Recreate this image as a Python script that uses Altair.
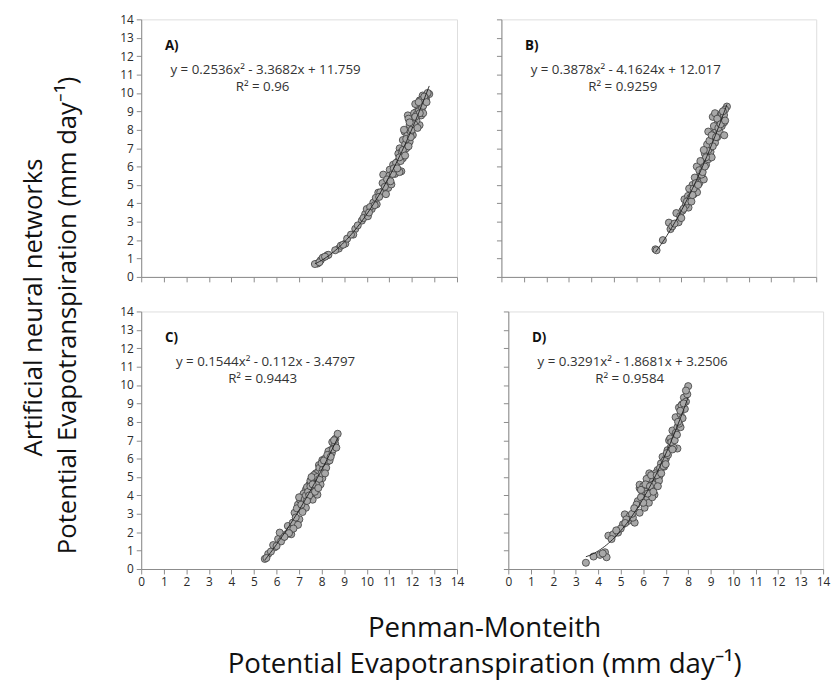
import altair as alt
import pandas as pd

FONT = "Open Sans"

# ---------------- data ----------------
panel_labels = ["A)", "B)", "C)", "D)"]
equations = [
    "y = 0.2536x² - 3.3682x + 11.759",
    "y = 0.3878x² - 4.1624x + 12.017",
    "y = 0.1544x² - 0.112x - 3.4797",
    "y = 0.3291x² - 1.8681x + 3.2506",
]
r_squared = ["R² = 0.96", "R² = 0.9259", "R² = 0.9443", "R² = 0.9584"]
tick_values = list(range(0, 15))

points_a = [
    (7.82, 0.73), (7.96, 0.91), (8.25, 1.18), (8.76, 1.54), (9.05, 1.81), (9.13, 2.08),
    (9.49, 2.61), (9.78, 3.06), (9.93, 3.42), (10.0, 3.69), (10.22, 3.69), (10.44, 3.95),
    (10.29, 4.04), (10.51, 4.58), (10.73, 4.67), (10.95, 4.84), (11.09, 5.03), (10.73, 5.56),
    (11.02, 5.83), (11.17, 6.10), (11.53, 5.74), (11.38, 6.28), (11.6, 6.45), (11.46, 6.99),
    (11.75, 6.99), (11.6, 7.44), (11.9, 7.35), (11.68, 7.89), (12.04, 7.71), (11.9, 8.25),
    (11.82, 8.78), (12.12, 8.60), (12.34, 8.25), (12.19, 8.96), (12.41, 8.78), (12.26, 9.32),
    (12.55, 9.50), (12.48, 9.86), (12.77, 9.94), (12.62, 9.67), (12.41, 9.14),
    (7.70, 0.70), (7.90, 0.80), (8.05, 1.05), (8.30, 1.20), (8.85, 1.70), (8.95, 1.75),
    (9.40, 2.30), (9.85, 3.20), (10.05, 3.30), (10.15, 3.80), (10.40, 4.30), (10.60, 4.60),
    (10.85, 4.50), (10.70, 5.10), (11.00, 5.50), (11.25, 5.60), (11.30, 6.20), (11.45, 5.70),
    (11.40, 6.70), (11.55, 6.80), (11.70, 7.20), (11.80, 7.70), (11.65, 8.00), (11.95, 7.90),
    (12.00, 8.40), (12.10, 8.90), (12.20, 8.50), (12.30, 9.00), (12.45, 9.20), (12.50, 8.90),
    (12.60, 9.80), (12.70, 10.00), (12.35, 9.60), (12.15, 9.40), (11.85, 8.60), (12.05, 8.10),
    (10.10, 3.50), (10.35, 3.90), (10.55, 4.35), (10.80, 4.90), (10.90, 5.30), (11.05, 5.20),
    (11.15, 5.60), (11.20, 5.90), (11.35, 5.90), (11.50, 6.30), (11.45, 6.50), (11.60, 6.90),
    (11.70, 6.60), (11.75, 7.50), (11.85, 7.10), (11.95, 7.60), (12.00, 8.00), (12.10, 8.30),
    (12.20, 8.80), (12.25, 8.10), (12.35, 8.90), (12.40, 9.60), (12.50, 9.30), (12.55, 9.80),
    (12.65, 9.50), (12.30, 9.50), (12.15, 8.70), (11.90, 8.40), (9.60, 2.80), (9.30, 2.30),
    (8.60, 1.45), (8.15, 1.10),
]

points_b = [
    (6.85, 1.50), (6.90, 1.45), (7.18, 2.00), (7.45, 2.95), (7.52, 2.60), (7.60, 2.75),
    (7.88, 2.97), (7.78, 3.47), (7.95, 3.30), (8.05, 3.60), (8.14, 4.22), (8.32, 3.77),
    (8.20, 3.90), (8.10, 3.70), (8.30, 4.40), (8.40, 4.30), (8.45, 4.70), (8.55, 4.50),
    (8.60, 4.90), (8.70, 4.60), (8.50, 5.00), (8.35, 4.80), (8.70, 5.30), (8.80, 5.10),
    (8.85, 5.60), (8.90, 5.50), (8.60, 5.40), (8.95, 5.90), (9.00, 5.30), (8.69, 6.00),
    (8.90, 5.56), (9.00, 6.30), (9.10, 6.10), (9.15, 6.60), (9.20, 6.40), (9.30, 6.80),
    (9.05, 6.70), (9.25, 7.00), (9.35, 6.50), (9.30, 7.20), (9.40, 7.50), (9.50, 7.30),
    (9.20, 7.90), (9.45, 7.80), (9.60, 7.60), (9.55, 8.00), (9.70, 7.90), (9.91, 7.70),
    (9.40, 8.70), (9.60, 8.30), (9.70, 8.50), (9.85, 8.60), (9.80, 8.20), (9.50, 8.90),
    (9.75, 8.80), (9.90, 8.40), (10.03, 9.26), (9.95, 9.10),
    (8.25, 4.10), (8.45, 4.10), (8.55, 4.80), (8.65, 5.10), (8.75, 5.00), (8.80, 5.80),
    (8.95, 5.70), (9.05, 6.00), (9.10, 6.50), (9.20, 6.90), (9.15, 7.20), (9.25, 7.40),
    (9.35, 7.70), (9.40, 7.10), (9.45, 8.20), (9.55, 7.60), (9.60, 8.60), (9.65, 8.10),
    (9.75, 8.30), (9.80, 8.90), (9.90, 8.80), (9.95, 8.50), (9.85, 9.00), (8.50, 4.45),
    (8.00, 3.20), (7.70, 2.90), (8.85, 6.30), (9.00, 6.90),
]

points_c = [
    (5.48, 0.55), (5.63, 0.82), (5.92, 1.18), (6.07, 1.63), (6.29, 1.72), (6.14, 1.98),
    (6.43, 1.89), (6.65, 1.89), (6.50, 2.34), (6.72, 2.52), (7.01, 2.70), (6.80, 3.06),
    (7.09, 3.24), (6.95, 3.50), (7.23, 3.59), (7.16, 3.95), (7.38, 3.86), (7.30, 4.31),
    (7.52, 4.13), (7.60, 3.77), (7.45, 4.58), (7.67, 4.49), (7.60, 4.94), (7.81, 4.76),
    (7.74, 5.20), (7.96, 5.30), (7.88, 5.65), (8.10, 5.56), (8.03, 5.92), (8.25, 5.83),
    (8.32, 6.19), (8.40, 6.46), (8.54, 6.64), (8.47, 6.90), (8.61, 7.08), (8.71, 7.35),
    (7.81, 4.04), (8.03, 4.94), (7.30, 3.33),
    (5.55, 0.60), (5.75, 0.95), (5.85, 1.30), (6.20, 1.50), (6.60, 2.10), (6.85, 2.80),
    (6.90, 3.30), (7.05, 3.75), (7.20, 4.10), (7.35, 4.45), (7.50, 4.80), (7.55, 4.30),
    (7.70, 4.20), (7.70, 5.00), (7.85, 5.30), (7.95, 4.60), (7.90, 5.50), (8.05, 5.40),
    (8.15, 6.00), (8.20, 5.50), (8.30, 6.40), (8.45, 6.30), (8.60, 6.80), (8.35, 5.90),
    (7.75, 4.60), (7.40, 3.90), (7.15, 3.10), (6.95, 2.40), (7.00, 3.90), (8.00, 5.75),
    (7.10, 3.50), (7.25, 3.80), (7.30, 4.00), (7.40, 4.20), (7.45, 4.00), (7.50, 4.50),
    (7.60, 4.60), (7.65, 5.10), (7.80, 5.00), (7.85, 4.40), (7.90, 4.90), (8.00, 5.20),
    (8.10, 5.90), (8.15, 5.20), (8.25, 6.20), (8.40, 6.10), (8.50, 6.50), (8.55, 7.00),
    (8.65, 6.60), (7.55, 5.00), (7.35, 3.70), (6.75, 2.20), (6.55, 1.95), (6.35, 1.75),
    (6.00, 1.25),
]

points_d = [
    (3.45, 0.34), (3.79, 0.68), (4.08, 0.77), (4.30, 0.91), (4.37, 0.64), (4.45, 1.81),
    (4.67, 1.89), (4.59, 1.63), (4.88, 1.98), (5.10, 2.43), (5.18, 2.97), (5.40, 2.88),
    (5.32, 2.61), (5.62, 2.52), (5.54, 2.79), (5.76, 3.69), (5.84, 4.40), (5.98, 4.13),
    (6.06, 3.33), (6.13, 3.77), (6.20, 4.67), (6.35, 4.40), (6.42, 5.03), (6.27, 5.20),
    (6.57, 4.67), (6.64, 5.38), (6.79, 5.74), (6.86, 6.10), (7.01, 6.01), (7.08, 6.46),
    (7.23, 6.64), (7.15, 6.99), (7.37, 7.17), (7.30, 7.53), (7.52, 7.71), (7.44, 8.25),
    (7.66, 8.42), (7.59, 8.78), (7.74, 8.96), (7.81, 9.32), (7.96, 9.50), (8.00, 9.94),
    (5.84, 3.06), (6.50, 4.04), (6.71, 5.03), (6.93, 5.56), (7.52, 6.55), (7.66, 7.71),
    (5.84, 4.58),
    (4.20, 0.85), (5.00, 2.20), (5.25, 2.70), (5.70, 3.50), (5.90, 3.90), (6.00, 4.50),
    (6.10, 4.20), (6.25, 3.60), (6.30, 4.90), (6.45, 4.60), (6.55, 5.20), (6.70, 4.80),
    (6.75, 5.50), (6.95, 5.90), (7.10, 6.20), (7.20, 7.10), (7.35, 6.60), (7.45, 7.40),
    (7.60, 7.90), (7.70, 8.90), (7.75, 8.20), (7.90, 9.10), (7.85, 8.70), (6.40, 3.90),
    (6.15, 4.90),
    (5.50, 3.00), (5.90, 4.30), (6.00, 3.60), (6.10, 4.60), (6.20, 4.10), (6.30, 4.50),
    (6.35, 5.10), (6.45, 4.20), (6.60, 5.10), (6.65, 4.50), (6.80, 5.20), (6.90, 5.60),
    (7.00, 5.70), (7.05, 6.30), (7.25, 6.90), (7.30, 6.50), (7.40, 7.00), (7.50, 7.30),
    (7.55, 8.00), (7.65, 8.60), (7.80, 9.00), (7.90, 9.70), (4.80, 2.10), (5.20, 2.50),
    (5.60, 3.30),
]

y_title_lines = ["Artificial neural networks", "Potential Evapotranspiration (mm day⁻¹)"]
x_title_lines = ["Penman-Monteith", "Potential Evapotranspiration (mm day⁻¹)"]

# ---------------- styling ----------------
FRAME = "#8a8a8a"
PH = 261
Y_TITLE_SIZE = 26
X_TITLE_SIZE = 28


def make_axis(show_labels):
    return alt.Axis(
        values=tick_values, labels=show_labels, title=None, grid=False,
        tickSize=5, tickColor=FRAME, domainColor=FRAME, tickWidth=1, domainWidth=1,
        labelFont=FONT, labelFontSize=12, labelColor="#2a2a2a", labelPadding=3,
        labelFlush=False, labelOverlap=False,
    )


def panel(pts, i, show_x, show_y, width):
    df = pd.DataFrame(pts, columns=["x", "y"])
    sx = alt.Scale(domain=[0, 14], nice=False, zero=False)
    sy = alt.Scale(domain=[0, 14], nice=False, zero=False)
    ax_x = make_axis(show_x)
    ax_y = make_axis(show_y)
    base = alt.Chart(df)
    dots = base.mark_circle(
        size=52, color="#a8a8a8", opacity=1, stroke="#3c3c3c", strokeWidth=0.8
    ).encode(
        x=alt.X("x:Q", scale=sx, axis=ax_x),
        y=alt.Y("y:Q", scale=sy, axis=ax_y),
    )
    fit = base.transform_regression("x", "y", method="poly", order=2).mark_line(
        color="#1e1e1e", strokeWidth=0.9
    ).encode(
        x=alt.X("x:Q", scale=sx, axis=ax_x),
        y=alt.Y("y:Q", scale=sy, axis=ax_y),
    )
    lab = alt.Chart(pd.DataFrame({"t": [panel_labels[i]]})).mark_text(
        align="left", baseline="middle", font=FONT, fontSize=13.5, fontWeight="bold", color="#111"
    ).encode(text="t:N", x=alt.value(24), y=alt.value(27))
    eq = alt.Chart(pd.DataFrame({"t": [equations[i]]})).mark_text(
        align="center", baseline="middle", font=FONT, fontSize=13.5, color="#333"
    ).encode(text="t:N", x=alt.value(126), y=alt.value(51))
    r2 = alt.Chart(pd.DataFrame({"t": [r_squared[i]]})).mark_text(
        align="center", baseline="middle", font=FONT, fontSize=13.5, color="#333"
    ).encode(text="t:N", x=alt.value(123), y=alt.value(69))
    return alt.layer(dots, fit, lab, eq, r2).properties(width=width, height=PH)


pa = panel(points_a, 0, False, True, 320)
pb = panel(points_b, 1, False, False, 319)
pc = panel(points_c, 2, True, True, 320)
pd_ = panel(points_d, 3, True, False, 319)

grid = alt.vconcat(
    alt.hconcat(pa, pb, spacing=38),
    alt.hconcat(pc, pd_, spacing=38),
    spacing=21,
)

NOFRAME = alt.ViewConfig(stroke="transparent")

ytitle = alt.layer(
    alt.Chart(pd.DataFrame({"t": [y_title_lines[0]]})).mark_text(
        angle=270, align="center", baseline="middle", font=FONT, fontSize=Y_TITLE_SIZE, color="#111"
    ).encode(text="t:N", x=alt.value(25), y=alt.value(292)),
    alt.Chart(pd.DataFrame({"t": [y_title_lines[1]]})).mark_text(
        angle=270, align="center", baseline="middle", font=FONT, fontSize=Y_TITLE_SIZE, color="#111"
    ).encode(text="t:N", x=alt.value(60), y=alt.value(300)),
).properties(width=94, height=560, view=NOFRAME)

xtitle = alt.layer(
    alt.Chart(pd.DataFrame({"t": [x_title_lines[0]]})).mark_text(
        align="center", baseline="middle", font=FONT, fontSize=X_TITLE_SIZE, color="#111"
    ).encode(text="t:N", x=alt.value(482), y=alt.value(32)),
    alt.Chart(pd.DataFrame({"t": [x_title_lines[1]]})).mark_text(
        align="center", baseline="middle", font=FONT, fontSize=X_TITLE_SIZE, color="#111"
    ).encode(text="t:N", x=alt.value(482), y=alt.value(68)),
).properties(width=800, height=60, view=NOFRAME)

chart = alt.vconcat(
    alt.hconcat(ytitle, grid, spacing=16),
    xtitle,
    spacing=8,
).properties(
    padding={"left": 0, "top": 0, "right": 0, "bottom": 0}
).configure_view(
    stroke=FRAME, strokeWidth=1
).configure(background="white")

chart.save("out.html", embed_options={"renderer": "svg", "actions": False})
